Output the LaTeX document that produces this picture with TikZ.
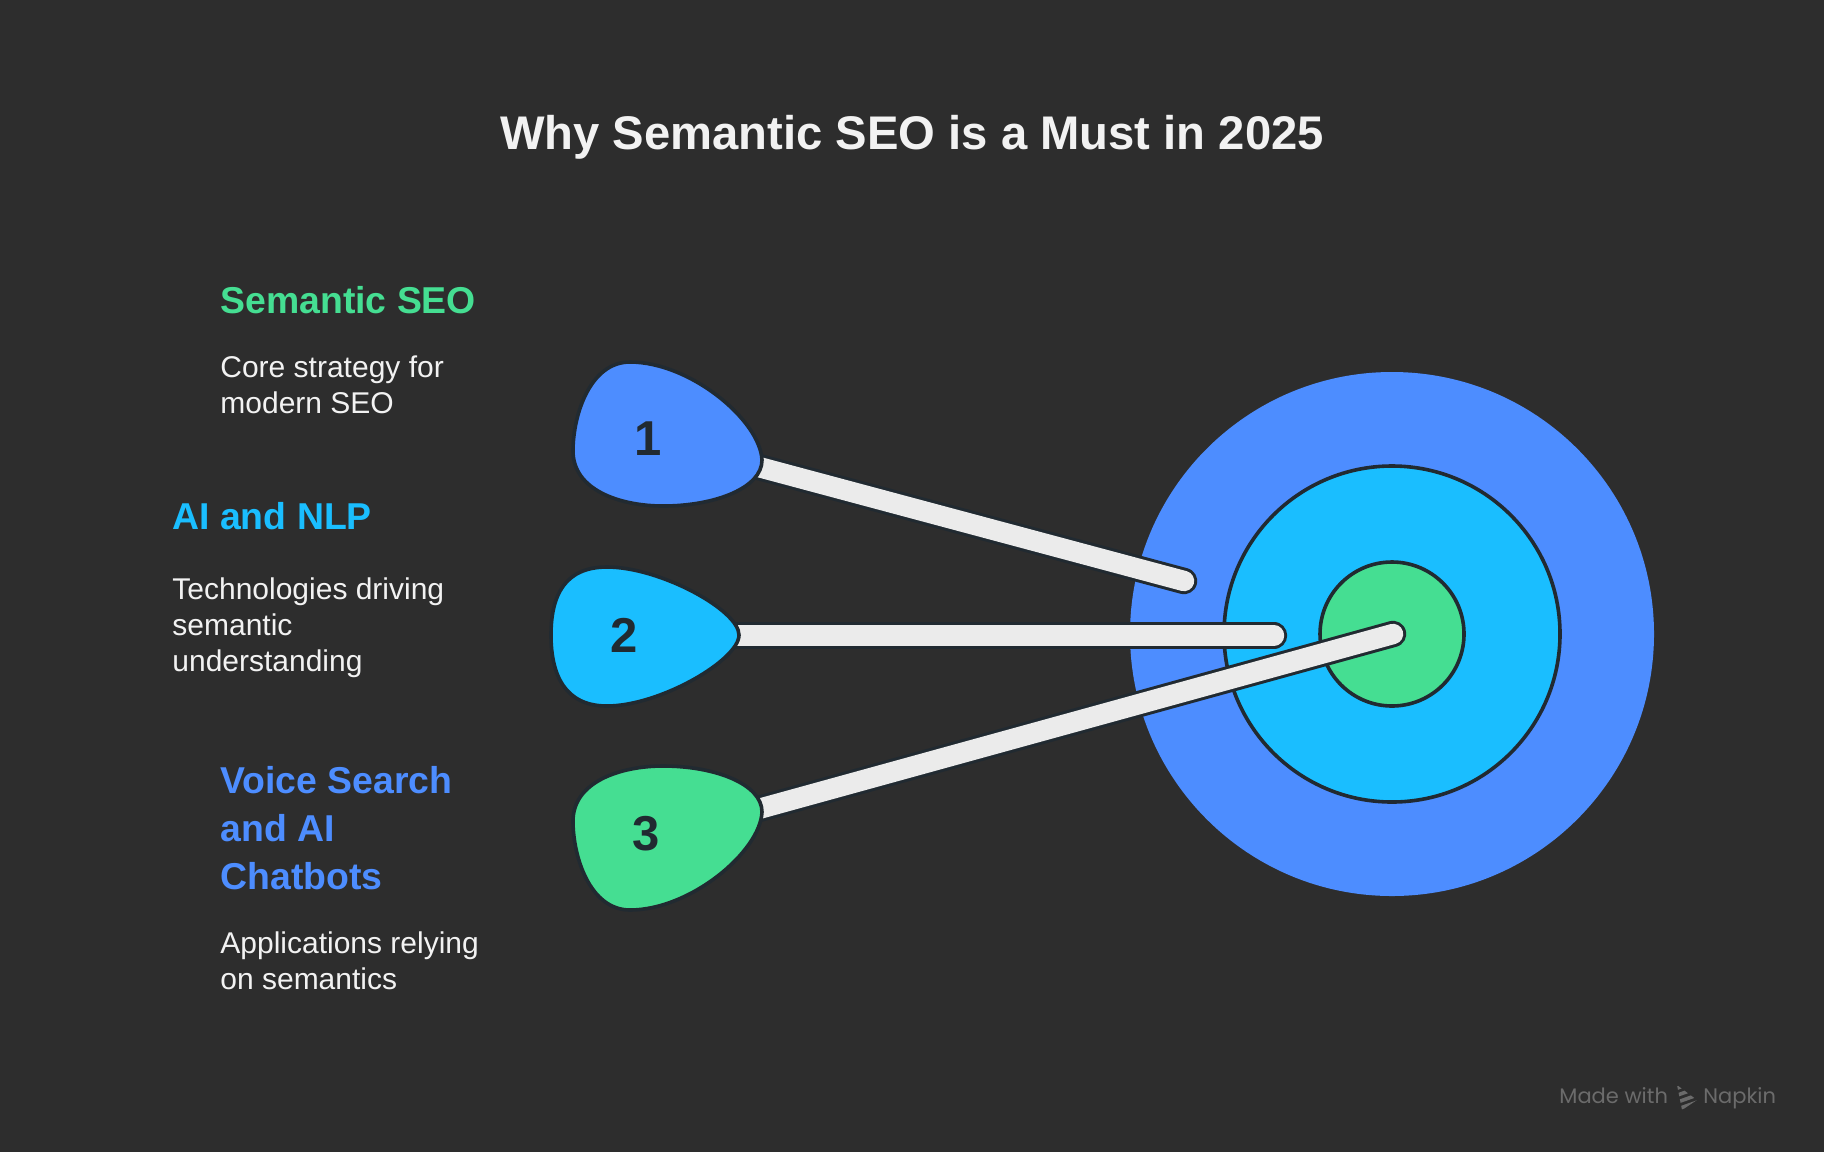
\documentclass[tikz,border=0pt]{standalone}
\usepackage{fontspec}
\setmainfont{Liberation Sans}
\newfontfamily\markfont{Poppins}
\definecolor{bgcolor}{HTML}{2D2D2D}
\definecolor{linecolor}{HTML}{212A31}
\definecolor{barcolor}{HTML}{EBEBEB}
\definecolor{bluecolor}{HTML}{4D8DFF}
\definecolor{cyancolor}{HTML}{1ABEFF}
\definecolor{greencolor}{HTML}{45DE92}
\definecolor{bodycolor}{HTML}{F2F2F2}
\definecolor{markcolor}{HTML}{6B6B6B}
\tikzset{
    ring/.style={draw=linecolor, line width=1.8pt},
    bar/.style={draw=linecolor, line width=1.5pt, double=barcolor, double distance=10.2pt, line cap=round},
    blob/.style={draw=linecolor, line width=1.8pt},
    numtext/.style={text=linecolor, inner sep=0pt, font=\fontsize{24.5pt}{28pt}\bfseries\selectfont},
    headtext/.style={anchor=base west, inner sep=0pt, align=left, font=\fontsize{18.7pt}{24pt}\bfseries\selectfont},
    bodytext/.style={anchor=base west, inner sep=0pt, align=left, text=bodycolor, font=\fontsize{15pt}{18pt}\selectfont},
    marktext/.style={anchor=base west, inner sep=0pt, text=markcolor, font=\markfont\fontsize{10.5pt}{12pt}\selectfont}
}
\begin{document}
\begin{tikzpicture}[x=.5pt, y=-.5pt]
    \useasboundingbox (0,0) rectangle (1824,1152);
    \fill [bgcolor] (0,0) rectangle (1824,1152);

    % Мишень
    \coordinate (center) at (1392,634);
    \fill [bluecolor] (center) circle [radius=262];
    \filldraw [ring, fill=cyancolor] (center) circle [radius=168];
    \filldraw [ring, fill=greencolor] (center) circle [radius=72];

    % Концы стержней
    \coordinate (start1) at (755,466);
    \coordinate (end1) at (1184,581);
    \coordinate (start2) at (735,635.5);
    \coordinate (end2) at (1274,635.5);
    \coordinate (start3) at (755,810);
    \coordinate (end3) at (1393,634);

    % Стержни
    \draw [bar] (start1) -- (end1);
    \draw [bar] (start2) -- (end2);
    \draw [bar] (start3) -- (end3);

    % Капли
    \filldraw [blob, fill=bluecolor]
        (762,460) .. controls (760,420) and (690,362) ..
        (630,362) .. controls (590,362) and (573,415) ..
        (573,451) .. controls (573,490) and (620,506) ..
        (663,506) .. controls (715,506) and (762,488) .. (762,460) -- cycle;
    \filldraw [blob, fill=cyancolor]
        (739,635) .. controls (739,610) and (660,567) ..
        (607,567) .. controls (565,567) and (551,595) ..
        (551,635) .. controls (551,675) and (565,706) ..
        (607,706) .. controls (660,706) and (739,660) .. (739,635) -- cycle;
    \filldraw [blob, fill=greencolor]
        (762,812) .. controls (760,852) and (690,910) ..
        (630,910) .. controls (590,910) and (573,857) ..
        (573,821) .. controls (573,782) and (620,766) ..
        (663,766) .. controls (715,766) and (762,784) .. (762,812) -- cycle;

    % Цифры
    \node [numtext] (num1) at (648,439) {1};
    \node [numtext] (num2) at (624,635) {2};
    \node [numtext] (num3) at (646,834) {3};

    % Заголовок
    \node [anchor=base, inner sep=0pt, text=bodycolor, font=\fontsize{23.6pt}{28pt}\bfseries\selectfont]
        (title) at (912,149) {Why Semantic SEO is a Must in 2025};

    % Подписи
    \node [headtext, text=greencolor] (head1) at (220,313) {Semantic SEO};
    \node [bodytext] (body1) at (220,413) {Core strategy for\\modern SEO};
    \node [headtext, text=cyancolor] (head2) at (172,529) {AI and NLP};
    \node [bodytext] (body2) at (172,671) {Technologies driving\\semantic\\understanding};
    \node [headtext, text=bluecolor] (head3) at (220,889) {Voice Search\\and AI\\Chatbots};
    \node [bodytext] (body3) at (220,989) {Applications relying\\on semantics};

    % Метка
    \node [marktext] (made) at (1559,1103) {Made with};
    \begin{scope}
        \clip (1677,1085) -- (1697,1100) -- (1682,1110) -- cycle;
        \foreach \ypos in {1090,1097,1104,1111}
            \draw [markcolor, line width=1.8pt] (1672,\ypos) -- (1700,\ypos-10);
    \end{scope}
    \node [marktext] (napkin) at (1703,1103) {Napkin};
\end{tikzpicture}
\end{document}
